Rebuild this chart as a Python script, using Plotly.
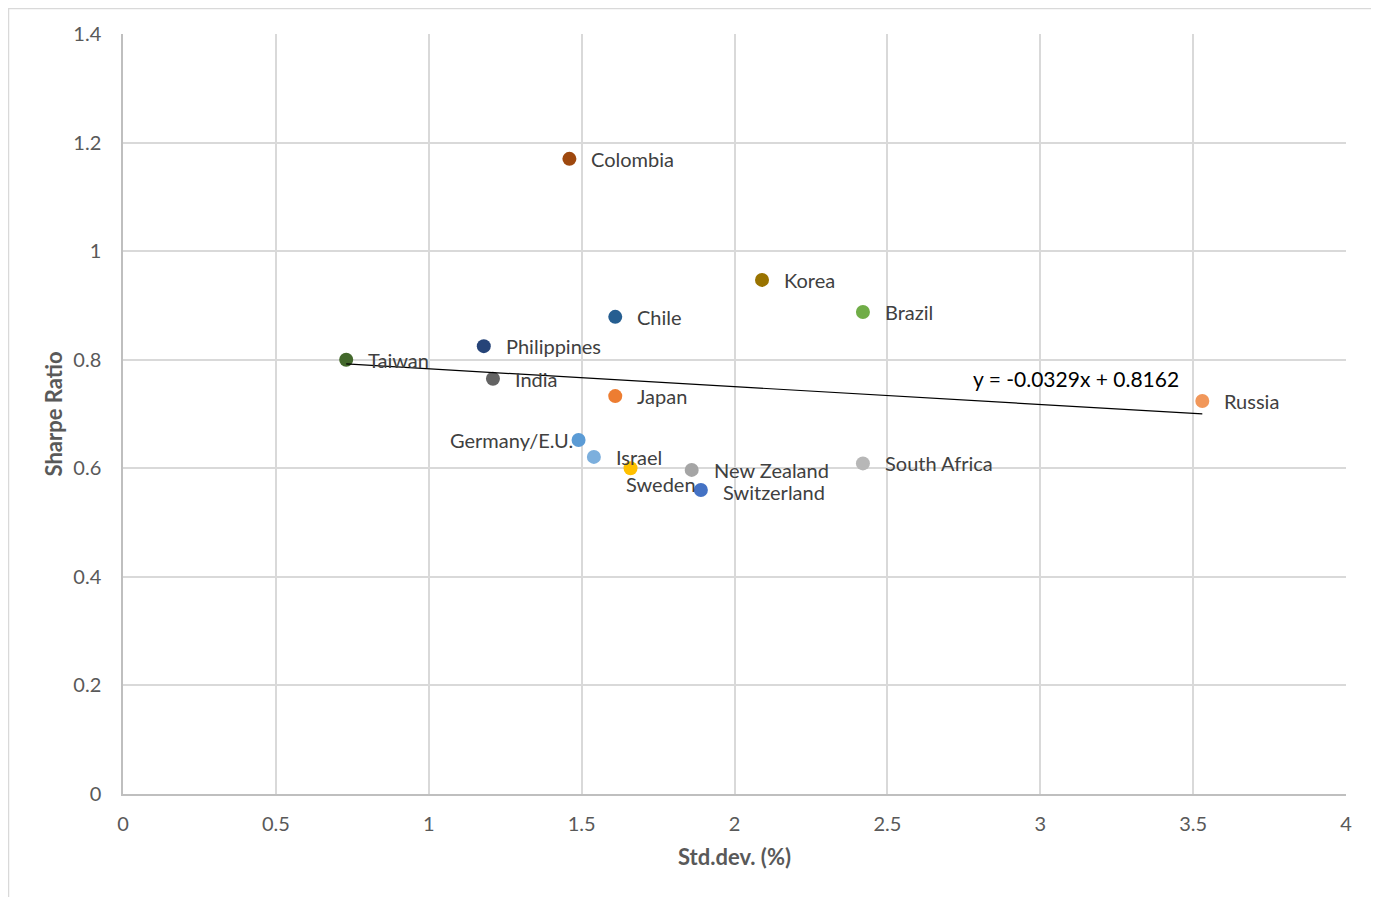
import plotly.graph_objects as go

countries = ["Taiwan", "Colombia", "Korea", "Brazil", "Chile", "Philippines", "India",
             "Japan", "Russia", "Germany/E.U.", "Israel", "Sweden", "New Zealand",
             "Switzerland", "South Africa"]
std_dev = [0.73, 1.46, 2.09, 2.42, 1.61, 1.18, 1.21, 1.61, 3.53, 1.49, 1.54, 1.66, 1.86, 1.89, 2.42]
sharpe = [0.80, 1.17, 0.947, 0.888, 0.879, 0.825, 0.765, 0.733, 0.724, 0.652, 0.621, 0.600, 0.597, 0.560, 0.609]
colors = ["#43682b", "#9e480e", "#997300", "#70ad47", "#255e91", "#264478", "#636363",
          "#ed7d31", "#f1975a", "#5b9bd5", "#7cafdd", "#ffc000", "#a5a5a5", "#4472c4", "#b7b7b7"]

trend_slope = -0.0329
trend_intercept = 0.8162
trend_label = "y = -0.0329x + 0.8162"

x_ticks = [0, 0.5, 1, 1.5, 2, 2.5, 3, 3.5, 4]
y_ticks = [0, 0.2, 0.4, 0.6, 0.8, 1, 1.2, 1.4]

FONT = "Lato"
fig = go.Figure()

fig.add_trace(go.Scatter(
    x=std_dev, y=sharpe, mode="markers",
    marker=dict(size=14, color=colors, line=dict(width=0)),
    hovertext=countries, showlegend=False,
))

xmin, xmax = min(std_dev), max(std_dev)
fig.add_trace(go.Scatter(
    x=[xmin, xmax],
    y=[trend_slope * xmin + trend_intercept, trend_slope * xmax + trend_intercept],
    mode="lines", line=dict(color="black", width=1.2), showlegend=False, hoverinfo="skip",
))

# label placement per country: (xanchor, xshift, yshift)
placement = {
    "Germany/E.U.": ("right", -4, 0),
    "Sweden": ("left", -7, -16),
    "New Zealand": ("left", 20, 0),
    "Switzerland": ("left", 20, -2),
}
for c, x, y in zip(countries, std_dev, sharpe):
    xa, xs, ys = placement.get(c, ("left", 20, 0))
    fig.add_annotation(x=x, y=y, text=c, showarrow=False, xanchor=xa, yanchor="middle",
                       xshift=xs, yshift=ys,
                       font=dict(family=FONT, size=20, color="#404040"))

fig.add_annotation(x=3.46, y=0.7645, text=trend_label, showarrow=False, xanchor="right",
                   yanchor="middle", font=dict(family=FONT, size=21, color="black"))

ML, MR, MT, MB = 115, 41, 26, 111
PW = 1379 - ML - MR
PH = 897 - MT - MB

fig.update_layout(
    width=1379, height=897,
    margin=dict(l=ML, r=MR, t=MT, b=MB),
    paper_bgcolor="white", plot_bgcolor="white",
    font=dict(family=FONT, color="#595959"),
    xaxis=dict(
        range=[0, 4], tickvals=x_ticks, ticktext=[str(t) for t in x_ticks],
        showgrid=True, gridcolor="#d9d9d9", gridwidth=1.5,
        showline=True, linecolor="#bfbfbf", linewidth=1.5,
        zeroline=False, ticks="", ticklabelstandoff=11,
        tickfont=dict(family=FONT, size=20, color="#595959"),
        title=dict(text="<b>Std.dev. (%)</b>", standoff=16,
                   font=dict(family=FONT, size=22, color="#595959")),
    ),
    yaxis=dict(
        range=[0, 1.4], tickvals=y_ticks, ticktext=[str(t) for t in y_ticks],
        showgrid=True, gridcolor="#d9d9d9", gridwidth=1.5,
        showline=True, linecolor="#bfbfbf", linewidth=1.5,
        zeroline=False, ticks="", ticklabelstandoff=16,
        tickfont=dict(family=FONT, size=20, color="#595959"),
        title=dict(text="<b>Sharpe Ratio</b>", standoff=5,
                   font=dict(family=FONT, size=22, color="#595959")),
    ),
    shapes=[dict(type="rect", xref="paper", yref="paper",
                 x0=(0.5 - ML) / PW, x1=(1370 - ML) / PW,
                 y0=-0.3, y1=1 + (MT - 0.5) / PH,
                 line=dict(color="#d9d9d9", width=1.5), fillcolor="rgba(0,0,0,0)",
                 layer="below")],
)

fig.write_html("out.html")
